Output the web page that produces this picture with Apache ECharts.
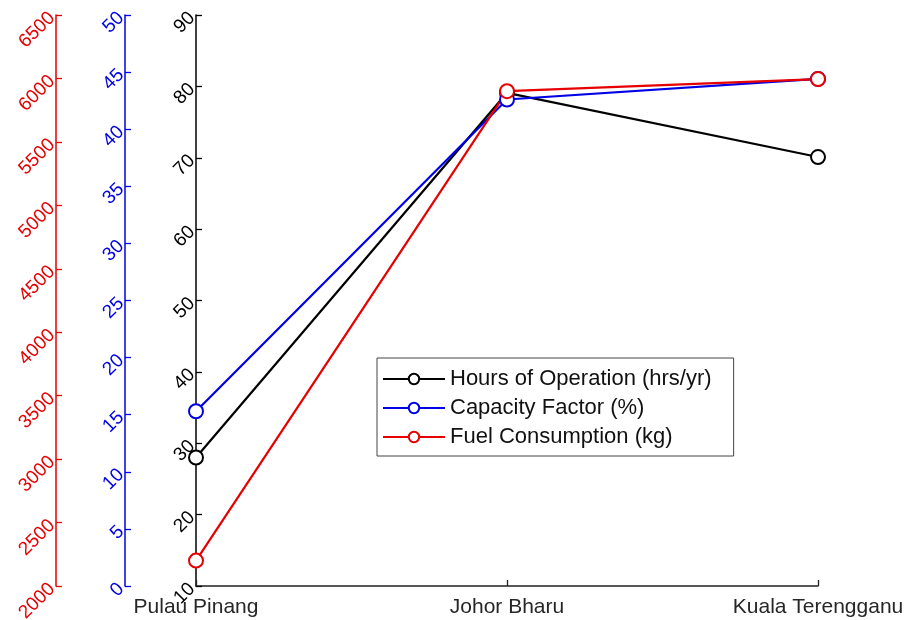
<!DOCTYPE html>
<html><head><meta charset="utf-8">
<script src="https://cdn.jsdelivr.net/npm/echarts@6/dist/echarts.min.js"></script>
<style>html,body{margin:0;padding:0;background:#fff}#c{width:904px;height:620px}</style>
</head><body><div id="c"></div>
<script>
const categories = ['Pulau Pinang', 'Johor Bharu', 'Kuala Terengganu'];
const hoursOfOperation = [28, 79.1, 70.1];
const capacityFactor = [15.3, 42.6, 44.4];
const fuelConsumption = [2200, 5900, 5995];
const seriesNames = ['Hours of Operation (hrs/yr)', 'Capacity Factor (%)', 'Fuel Consumption (kg)'];

const BLACK = '#000000', BLUE = '#0000e6', RED = '#e60000';
const font = 'Liberation Sans, Arial, sans-serif';

function yAx(min, max, interval, color, offset) {
  return {
    type: 'value', position: 'left', offset: offset, min: min, max: max, interval: interval,
    axisLine: { show: true, lineStyle: { color: color, width: 1.5 } },
    axisTick: { show: true, inside: true, length: 6, lineStyle: { color: color, width: 1.3 } },
    axisLabel: { color: color, rotate: 45, fontSize: 19, fontFamily: font, margin: 4,
      formatter: function (v) { return String(v); } },
    splitLine: { show: false }
  };
}

const chart = echarts.init(document.getElementById('c'), null, { renderer: 'canvas' });
chart.setOption({
  backgroundColor: '#fff',
  animation: false,
  grid: { left: 196, right: 86, top: 15, bottom: 34, containLabel: false, outerBoundsMode: 'none' },
  legend: {
    orient: 'vertical', left: 377, top: 358,
    data: seriesNames,
    itemWidth: 62, itemHeight: 13, itemGap: 7,
    borderColor: '#444', borderWidth: 1, padding: [10, 22, 8, 5],
    textStyle: { fontSize: 22, fontFamily: font, color: '#111' }
  },
  xAxis: {
    type: 'category', data: categories, boundaryGap: false,
    axisLine: { lineStyle: { color: '#222', width: 1.5 } },
    axisTick: { show: true, inside: true, length: 6, lineStyle: { color: '#222', width: 1.3 } },
    axisLabel: { color: '#262626', fontSize: 21, fontFamily: font, margin: 11 }
  },
  yAxis: [
    yAx(10, 90, 10, BLACK, 0),
    yAx(0, 50, 5, BLUE, 71),
    yAx(2000, 6500, 500, RED, 140)
  ],
  series: [
    { name: seriesNames[0], type: 'line', yAxisIndex: 0, data: hoursOfOperation, color: BLACK,
      symbol: 'emptyCircle', symbolSize: 14, lineStyle: { width: 2.2 }, itemStyle: { borderWidth: 2.5 } },
    { name: seriesNames[1], type: 'line', yAxisIndex: 1, data: capacityFactor, color: BLUE,
      symbol: 'emptyCircle', symbolSize: 14, lineStyle: { width: 2.2 }, itemStyle: { borderWidth: 2.5 } },
    { name: seriesNames[2], type: 'line', yAxisIndex: 2, data: fuelConsumption, color: RED,
      symbol: 'emptyCircle', symbolSize: 14, lineStyle: { width: 2.2 }, itemStyle: { borderWidth: 2.5 } }
  ]
});
</script></body></html>
